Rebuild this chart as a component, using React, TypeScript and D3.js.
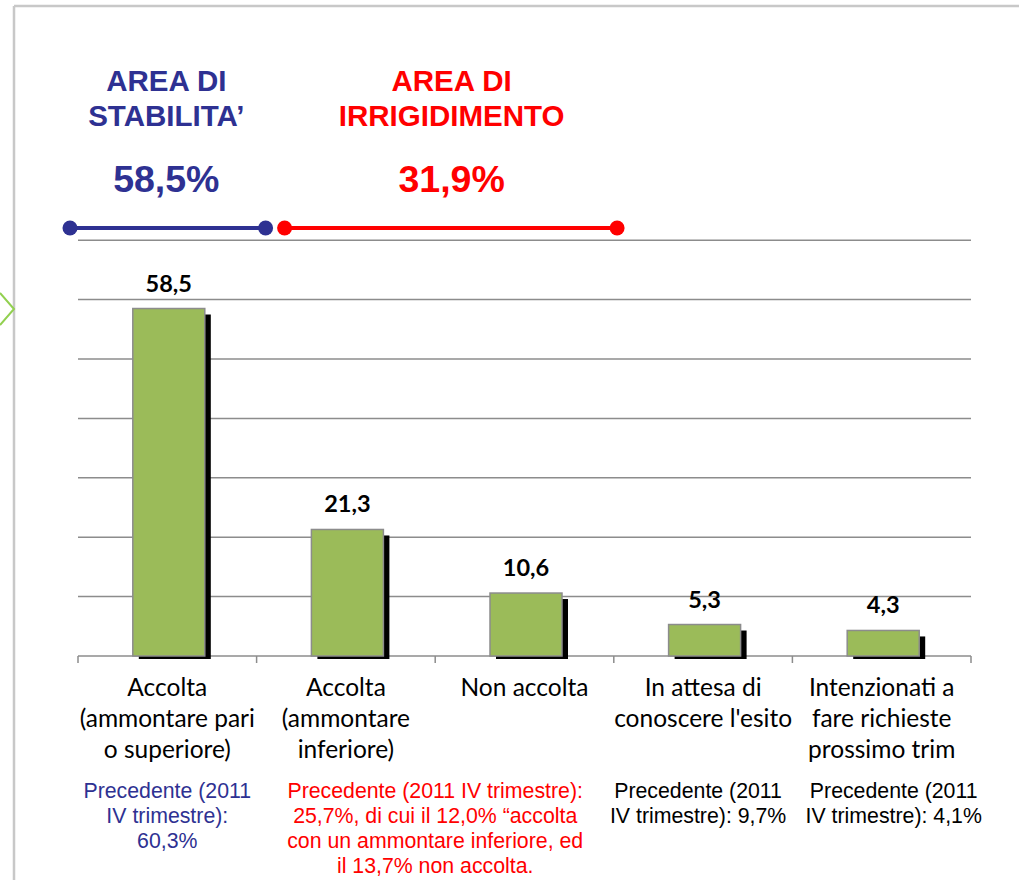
import React, { useEffect, useRef } from "react";
import * as d3 from "d3";

// chart data
const categories = ["acc_pari", "acc_inf", "non_acc", "attesa", "intenz"];
const categoryLines = [
  ["Accolta", "(ammontare pari", "o superiore)"],
  ["Accolta", "(ammontare", "inferiore)"],
  ["Non accolta"],
  ["In attesa di", "conoscere l'esito"],
  ["Intenzionati a", "fare richieste", "prossimo trim"],
];
const values = [58.5, 21.3, 10.6, 5.3, 4.3];
const valueLabels = ["58,5", "21,3", "10,6", "5,3", "4,3"];
const yTicks = [0, 10, 20, 30, 40, 50, 60, 70];

const noteLines = [
  ["Precedente (2011", "IV trimestre):", "60,3%"],
  [
    "Precedente (2011 IV trimestre):",
    "25,7%, di cui il 12,0% \u201caccolta",
    "con un ammontare inferiore, ed",
    "il 13,7% non accolta.",
  ],
  ["Precedente (2011", "IV trimestre): 9,7%"],
  ["Precedente (2011", "IV trimestre): 4,1%"],
];
const noteColors = ["#2e3192", "#ff0000", "#000000", "#000000"];

const areaTitles = [
  ["AREA DI", "STABILITA\u2019"],
  ["AREA DI", "IRRIGIDIMENTO"],
];
const areaValues = ["58,5%", "31,9%"];
const areaColors = ["#2e3192", "#ff0000"];

const BLUE = "#2e3192";
const RED = "#ff0000";

export default function App() {
  const ref = useRef<SVGSVGElement>(null);

  useEffect(() => {
    const W = 1019,
      H = 880;
    const left = 78,
      right = 971,
      bottom = 656;

    const svg = d3.select(ref.current).attr("width", W).attr("height", H);
    svg.selectAll("*").remove();

    // frame
    svg.append("line").attr("x1", 14).attr("x2", W).attr("y1", 6).attr("y2", 6)
      .attr("stroke", "#c8c8c8").attr("stroke-width", 2.5);
    svg.append("line").attr("x1", 14).attr("x2", 14).attr("y1", 6).attr("y2", H)
      .attr("stroke", "#c8c8c8").attr("stroke-width", 2.5);
    // green chevron on the left edge
    svg.append("path").attr("d", "M0,293 L14,309 L0,325")
      .attr("fill", "none").attr("stroke", "#92d050").attr("stroke-width", 2);

    const x = d3.scaleBand().domain(categories).range([left, right]).padding(0);
    const y = d3.scaleLinear().domain([0, 70]).range([bottom, bottom - 7 * 59.4]);
    const bw = 72;
    const cx = (c: string) => (x(c) as number) + x.bandwidth() / 2;

    // gridlines
    svg.append("g").selectAll("line")
      .data(yTicks.slice(1))
      .join("line")
      .attr("x1", left).attr("x2", right)
      .attr("y1", (d) => y(d)).attr("y2", (d) => y(d))
      .attr("stroke", "#8c8c8c").attr("stroke-width", 1.5);

    // x axis
    const xAxis = svg.append("g").attr("transform", `translate(0,${bottom})`);
    xAxis.append("line").attr("x1", left).attr("x2", right)
      .attr("stroke", "#8c8c8c").attr("stroke-width", 1.5);
    const bounds = categories.map((c) => x(c) as number).concat([right]);
    xAxis.selectAll(".tick").data(bounds).join("line")
      .attr("x1", (d) => d).attr("x2", (d) => d).attr("y1", 0).attr("y2", 7)
      .attr("stroke", "#8c8c8c").attr("stroke-width", 1.5);

    const barX = (i: number) => cx(categories[i]) + 1.5 - bw / 2;

    // bar shadows
    svg.append("g").selectAll("rect")
      .data(values)
      .join("rect")
      .attr("x", (d, i) => barX(i) + 6)
      .attr("y", (d) => y(d) + 6)
      .attr("width", bw)
      .attr("height", (d) => bottom - y(d) - 3)
      .attr("fill", "#000");

    // bars
    svg.append("g").selectAll("rect")
      .data(values)
      .join("rect")
      .attr("x", (d, i) => barX(i))
      .attr("y", (d) => y(d))
      .attr("width", bw)
      .attr("height", (d) => bottom - y(d))
      .attr("fill", "#9bbb59")
      .attr("stroke", "#8c8c8c")
      .attr("stroke-width", 1.5);

    // value labels
    svg.append("g").selectAll("text")
      .data(values)
      .join("text")
      .attr("x", (d, i) => cx(categories[i]) + 1.5)
      .attr("y", (d) => y(d) - 17)
      .attr("text-anchor", "middle")
      .style("font-family", "Lato, sans-serif")
      .style("font-weight", "bold")
      .style("font-size", "23.5px")
      .attr("fill", "#000")
      .text((d, i) => valueLabels[i]);

    // category labels
    categories.forEach((c, i) => {
      const t = svg.append("text")
        .attr("text-anchor", "middle")
        .style("font-family", "Lato, sans-serif")
        .style("font-size", "24.5px")
        .attr("fill", "#000");
      categoryLines[i].forEach((ln, j) => {
        t.append("tspan").attr("x", cx(c)).attr("y", 696 + j * 31).text(ln);
      });
    });

    // notes under the categories
    const noteX = [
      cx(categories[0]),
      x(categories[2]) as number,
      cx(categories[3]) - 5,
      cx(categories[4]) + 12,
    ];
    noteLines.forEach((lines, i) => {
      const t = svg.append("text")
        .attr("text-anchor", "middle")
        .style("font-family", "'Liberation Sans', Arial, sans-serif")
        .style("font-size", "21.3px")
        .attr("fill", noteColors[i]);
      lines.forEach((ln, j) => {
        t.append("tspan").attr("x", noteX[i]).attr("y", 798 + j * 25).text(ln);
      });
    });

    // area headers
    const areaX = [cx(categories[0]) - 1, (x(categories[1]) as number) + 195];
    areaTitles.forEach((lines, i) => {
      const t = svg.append("text")
        .attr("text-anchor", "middle")
        .style("font-family", "'Liberation Sans', Arial, sans-serif")
        .style("font-weight", "bold")
        .style("font-size", "29.5px")
        .attr("fill", areaColors[i]);
      lines.forEach((ln, j) => {
        t.append("tspan").attr("x", areaX[i]).attr("y", 91 + j * 35).text(ln);
      });
      svg.append("text")
        .attr("x", areaX[i]).attr("y", 192)
        .attr("text-anchor", "middle")
        .style("font-family", "'Liberation Sans', Arial, sans-serif")
        .style("font-weight", "bold")
        .style("font-size", "37.5px")
        .attr("fill", areaColors[i])
        .text(areaValues[i]);
    });

    // range lines with dot ends
    const lineY = 228;
    const ranges = [
      { x1: left - 8, x2: (x(categories[1]) as number) + 9, color: BLUE },
      { x1: (x(categories[1]) as number) + 28, x2: cx(categories[3]) - 86, color: RED },
    ];
    ranges.forEach((r) => {
      svg.append("line").attr("x1", r.x1).attr("x2", r.x2).attr("y1", lineY).attr("y2", lineY)
        .attr("stroke", r.color).attr("stroke-width", 4);
      svg.selectAll(null).data([r.x1, r.x2]).join("circle")
        .attr("cx", (d) => d).attr("cy", lineY).attr("r", 7.5).attr("fill", r.color);
    });
  }, []);

  return (
    <svg
      ref={ref}
      style={{ position: "absolute", left: 0, top: 0, background: "#fff" }}
    />
  );
}
